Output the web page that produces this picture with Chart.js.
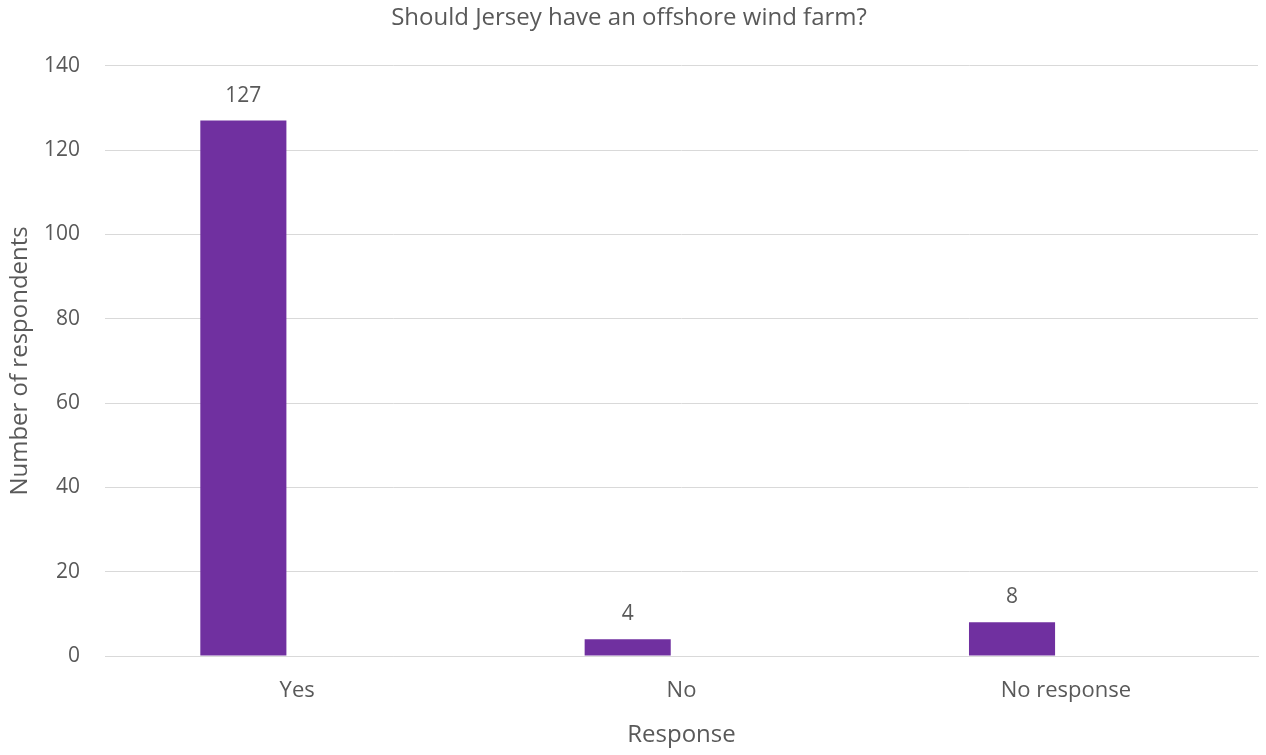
<!DOCTYPE html>
<html>
<head>
<meta charset="utf-8">
<script src="https://cdn.jsdelivr.net/npm/chart.js@4.4.1/dist/chart.umd.min.js"></script>
<style>
  html, body { margin: 0; padding: 0; background: #ffffff; }
  #wrap { width: 1266px; height: 755px; position: relative; }
</style>
</head>
<body>
<div id="wrap"><canvas id="chart" width="1266" height="755"></canvas></div>
<script>
const categories = ['Yes', 'No', 'No response'];
const respondents = [127, 4, 8];
const emptySeries = [null, null, null];
const yTicks = [0, 20, 40, 60, 80, 100, 120, 140];

const FONT = '"Open Sans", "Noto Sans", sans-serif';
const TEXT = '#595959';

// Writes each bar's value just above its top
const valueLabels = {
  id: 'valueLabels',
  afterDatasetsDraw(chart) {
    const ctx = chart.ctx;
    const meta = chart.getDatasetMeta(0);
    ctx.save();
    ctx.font = '21px ' + FONT;
    ctx.fillStyle = TEXT;
    ctx.textAlign = 'center';
    ctx.textBaseline = 'middle';
    meta.data.forEach((bar, i) => {
      ctx.fillText(String(respondents[i]), bar.x, bar.y - 25);
    });
    ctx.restore();
  }
};

new Chart(document.getElementById('chart'), {
  type: 'bar',
  data: {
    labels: categories,
    datasets: [
      { label: 'Respondents', data: respondents, backgroundColor: '#7030A0',
        barPercentage: 0.8, categoryPercentage: 0.56 },
      { label: '', data: emptySeries, backgroundColor: 'transparent',
        barPercentage: 0.8, categoryPercentage: 0.56 }
    ]
  },
  options: {
    responsive: false,
    animation: false,
    layout: { padding: { left: 0, right: 8, top: 4, bottom: 5 } },
    plugins: {
      legend: { display: false },
      tooltip: { enabled: false },
      title: {
        display: true,
        text: 'Should Jersey have an offshore wind farm?',
        color: TEXT,
        font: { family: FONT, size: 24, weight: 'normal' },
        padding: { top: 0, bottom: 33 }
      }
    },
    scales: {
      y: {
        min: 0, max: 140,
        afterBuildTicks(scale) { scale.ticks = yTicks.map(v => ({ value: v })); },
        afterFit(scale) { scale.width = 105; },
        grid: { color: '#d9d9d9', lineWidth: 1, drawTicks: false },
        border: { display: false },
        ticks: { color: TEXT, font: { family: FONT, size: 21 }, padding: 25 },
        title: {
          display: true, text: 'Number of respondents', color: TEXT,
          font: { family: FONT, size: 24 }, padding: { top: 6, bottom: 0 }
        }
      },
      x: {
        afterFit(scale) { scale.height = 94; },
        grid: { display: false, drawTicks: false },
        border: { display: true, color: '#d9d9d9', width: 1 },
        ticks: { color: TEXT, font: { family: FONT, size: 22 }, padding: 22 },
        title: {
          display: true, text: 'Response', color: TEXT,
          font: { family: FONT, size: 24 }, padding: { top: 12, bottom: 0 }
        }
      }
    }
  },
  plugins: [valueLabels]
});
</script>
</body>
</html>
